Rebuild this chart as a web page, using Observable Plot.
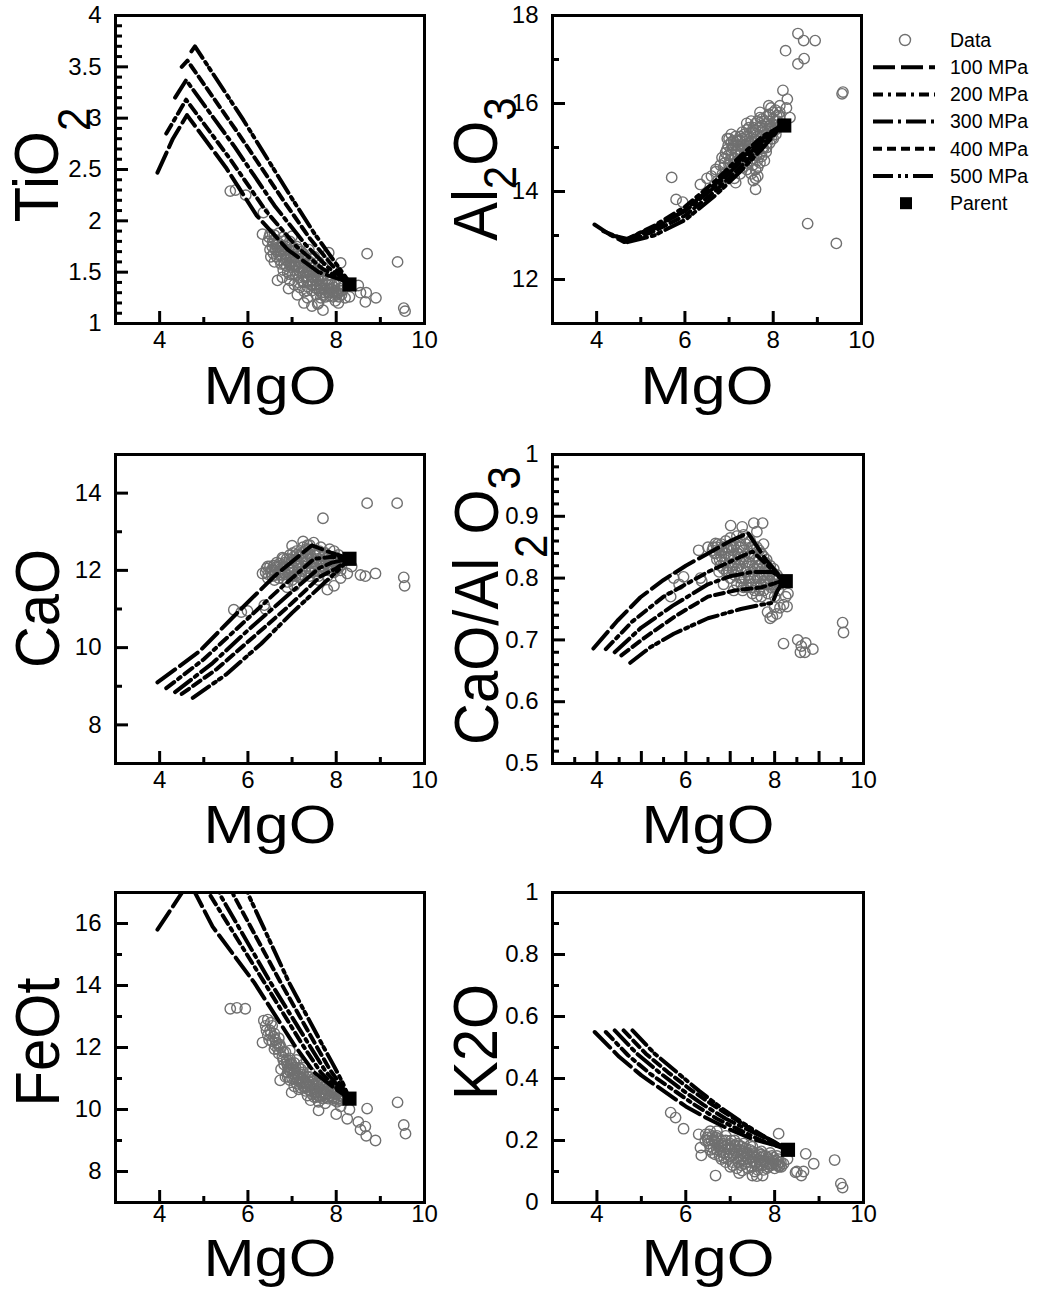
<!DOCTYPE html>
<html><head><meta charset="utf-8">
<script src="https://cdn.jsdelivr.net/npm/d3@7"></script>
<script src="https://cdn.jsdelivr.net/npm/@observablehq/plot@0.6"></script>
<style>
body{margin:0;background:#fff;}
#root{position:relative;width:1041px;height:1302px;background:#fff;overflow:hidden;}
</style></head><body><div id="root"></div>
<script>
// ---------------- DATA ----------------
const pressures = ["100 MPa", "200 MPa", "300 MPa", "400 MPa", "500 MPa"];
const legendLabels = ["Data", "100 MPa", "200 MPa", "300 MPa", "400 MPa", "500 MPa", "Parent"];
const mgoTicks = [4, 6, 8, 10];
const tio2Ticks = [1, 1.5, 2, 2.5, 3, 3.5, 4];
const al2o3Ticks = [12, 14, 16, 18];
const caoTicks = [8, 10, 12, 14];
const ratioTicks = [0.5, 0.6, 0.7, 0.8, 0.9, 1];
const feotTicks = [8, 10, 12, 14, 16];
const k2oTicks = [0, 0.2, 0.4, 0.6, 0.8, 1];

// samples: flat [MgO, value, MgO, value, ...]
const tio2Data = [5.6,2.29, 5.72,2.3, 5.95,2.25, 6.35,2.08, 6.33,1.87, 6.5,1.87, 6.6,1.86, 8.7,1.68, 9.39,1.6, 9.53,1.15, 9.56,1.12, 8.9,1.25, 8.66,1.21, 8.5,1.37, 8.68,1.3, 7.83,1.69, 8.1,1.59, 6.67,1.42, 6.92,1.34, 7.27,1.2, 7.45,1.17, 7.58,1.19, 7.7,1.13, 7.98,1.22, 8.05,1.2, 8.2,1.25, 8.3,1.26, 6.8,1.52, 7.6,1.2, 7.35,1.25, 8.55,1.3,
 6.45,1.8, 6.55,1.75, 6.6,1.82, 6.7,1.78, 6.75,1.7, 6.8,1.84, 6.85,1.75, 6.9,1.66, 6.95,1.8, 7.0,1.7, 7.0,1.6, 7.05,1.52, 7.1,1.75, 7.1,1.64, 7.15,1.55, 7.15,1.45, 7.2,1.7, 7.2,1.6, 7.25,1.5, 7.25,1.4, 7.3,1.65, 7.3,1.55, 7.35,1.46, 7.35,1.36, 7.4,1.6, 7.4,1.5, 7.45,1.42, 7.45,1.32, 7.5,1.55, 7.5,1.45, 7.55,1.38, 7.55,1.28, 7.6,1.5, 7.6,1.42, 7.65,1.34, 7.65,1.25, 7.7,1.46, 7.7,1.38, 7.75,1.3, 7.8,1.42, 7.8,1.34, 7.85,1.27, 7.9,1.38, 7.9,1.3, 7.95,1.35, 8.0,1.3, 8.05,1.38, 8.1,1.32, 6.65,1.65, 6.6,1.6, 6.75,1.58, 6.9,1.5, 6.95,1.42, 7.05,1.38, 6.85,1.62, 6.95,1.57, 7.08,1.47, 7.18,1.35, 7.28,1.31, 7.12,1.28, 6.78,1.45, 6.62,1.72, 6.52,1.65, 7.5,1.65, 7.6,1.6, 7.7,1.55, 7.38,1.72, 7.0,1.85, 6.7,1.88,
 6.5,1.72, 6.58,1.68, 6.68,1.74, 6.72,1.62, 6.82,1.68, 6.88,1.56, 6.98,1.64, 7.02,1.48, 7.08,1.58, 7.12,1.68, 7.18,1.5, 7.22,1.42, 7.28,1.58, 7.32,1.45, 7.38,1.52, 7.42,1.38, 7.48,1.5, 7.52,1.35, 7.58,1.45, 7.62,1.32, 7.68,1.42, 7.72,1.28, 7.78,1.38, 7.82,1.3, 7.88,1.34, 7.92,1.26, 7.98,1.32, 8.02,1.28, 8.08,1.34, 8.12,1.28, 7.35,1.62, 7.45,1.58, 7.55,1.5, 7.25,1.68, 7.15,1.72, 6.92,1.72, 6.78,1.8, 6.58,1.78, 7.0,1.55, 6.82,1.58,
 6.48,1.84, 6.56,1.8, 6.64,1.77, 6.66,1.7, 6.74,1.66, 6.76,1.76, 6.84,1.72, 6.86,1.64, 6.94,1.68, 6.96,1.6, 7.04,1.64, 7.06,1.56, 7.14,1.6, 7.16,1.52, 7.24,1.55, 7.26,1.46, 7.34,1.5, 7.36,1.42, 7.44,1.46, 7.46,1.38, 7.54,1.42, 7.56,1.34, 7.64,1.38, 7.66,1.3, 7.74,1.34, 7.76,1.26, 7.84,1.34, 7.86,1.3, 7.94,1.3, 7.96,1.38, 8.04,1.3, 8.06,1.26, 8.14,1.32, 8.16,1.36, 7.04,1.74, 7.24,1.64, 7.44,1.54, 7.64,1.46, 7.84,1.4, 6.94,1.48, 7.14,1.4, 7.34,1.32];
const al2o3Data = [8.56,17.59, 8.69,17.43, 8.95,17.43, 8.28,17.2, 8.56,16.9, 8.7,17.02, 9.56,16.22, 9.58,16.26, 8.78,13.27, 9.43,12.82, 5.7,14.32, 5.8,13.82, 5.95,13.76, 6.35,14.16, 6.84,14.77, 6.96,15.2, 7.05,15.12, 7.19,15.15, 7.6,14.05, 7.6,14.3, 8.22,16.3, 8.32,16.1, 8.3,15.9, 7.9,15.95, 7.7,15.68, 8.38,15.68, 7.4,15.55, 6.5,14.3, 6.7,14.45,
 6.6,14.35, 6.7,14.5, 6.8,14.6, 6.85,14.4, 6.9,14.75, 6.95,14.95, 7.0,14.6, 7.0,15.2, 7.05,14.85, 7.1,15.05, 7.1,14.45, 7.15,15.25, 7.2,14.7, 7.2,14.95, 7.25,15.15, 7.3,14.55, 7.3,15.35, 7.35,14.85, 7.35,15.05, 7.4,15.25, 7.4,14.65, 7.45,15.45, 7.45,14.95, 7.5,15.15, 7.5,14.4, 7.55,15.35, 7.55,14.75, 7.6,15.55, 7.6,15.0, 7.65,15.25, 7.65,14.55, 7.7,15.45, 7.7,14.85, 7.75,15.65, 7.75,15.1, 7.8,15.35, 7.8,14.7, 7.85,15.55, 7.85,15.0, 7.9,15.75, 7.9,15.25, 7.95,15.45, 8.0,15.65, 8.0,15.2, 8.05,15.85, 8.05,15.4, 8.1,15.6, 8.15,15.8, 7.6,14.5, 7.55,14.25, 7.05,15.3, 6.75,14.25, 6.95,14.3, 7.25,14.4, 7.15,14.2, 7.65,14.35, 7.95,15.9, 7.7,15.8, 7.5,15.6,
 6.88,14.55, 6.92,14.88, 6.98,15.05, 7.02,14.72, 7.08,14.98, 7.12,14.62, 7.18,15.15, 7.22,14.82, 7.28,15.02, 7.32,14.68, 7.38,15.18, 7.42,14.88, 7.48,15.32, 7.52,14.98, 7.58,15.18, 7.62,14.82, 7.68,15.08, 7.72,15.35, 7.78,14.98, 7.82,15.2, 7.88,15.42, 7.92,15.1, 7.98,15.35, 8.02,15.52, 8.08,15.72, 8.12,15.45, 8.15,15.95, 7.35,15.3, 7.25,15.25, 7.45,15.1, 7.55,15.45, 7.65,15.6, 7.85,15.7, 7.75,15.5, 7.12,14.3, 7.4,14.5, 7.7,14.65,
 6.9,14.65, 6.98,14.82, 7.04,14.95, 7.06,14.55, 7.14,14.75, 7.16,14.9, 7.24,14.6, 7.26,14.85, 7.34,14.95, 7.36,14.75, 7.44,15.05, 7.46,14.8, 7.54,15.1, 7.56,14.9, 7.64,15.15, 7.66,14.95, 7.74,15.25, 7.76,15.0, 7.84,15.3, 7.86,15.1, 7.94,15.5, 7.96,15.2, 8.04,15.6, 8.06,15.3, 8.14,15.7, 8.16,15.5, 7.74,14.8, 7.84,14.9, 7.64,14.7, 7.54,14.6, 7.2,15.05, 7.3,15.2, 7.4,15.4, 7.6,15.4, 7.8,15.6, 7.9,15.6, 8.0,15.8, 7.1,15.15];
const caoData = [8.7,13.74, 9.38,13.74, 7.7,13.35, 9.53,11.82, 9.55,11.6, 8.89,11.92, 8.55,11.88, 8.66,11.85, 8.25,11.92, 7.95,11.6, 8.1,11.8, 5.68,10.98, 5.85,10.92, 5.99,10.95, 6.37,11.1, 6.4,11.0, 6.33,11.92, 6.45,12.1, 6.6,12.12, 6.78,12.33, 7.0,12.64, 7.25,12.75, 7.49,12.72, 6.89,11.56, 8.35,12.1, 7.8,11.5,
 6.4,11.95, 6.5,12.1, 6.55,11.85, 6.6,12.0, 6.65,12.2, 6.7,11.8, 6.75,12.05, 6.8,12.3, 6.85,11.9, 6.9,12.15, 6.95,12.4, 7.0,11.75, 7.0,12.0, 7.05,12.25, 7.1,12.5, 7.15,11.85, 7.15,12.1, 7.2,12.35, 7.25,12.6, 7.3,11.95, 7.3,12.2, 7.35,12.45, 7.4,12.65, 7.45,12.05, 7.45,12.3, 7.5,12.5, 7.55,11.9, 7.55,12.15, 7.6,12.4, 7.65,12.6, 7.7,12.0, 7.7,12.25, 7.75,12.45, 7.8,11.85, 7.85,12.1, 7.9,12.35, 7.95,11.95, 8.0,12.2, 8.05,12.4, 8.1,12.0, 6.9,11.7, 7.6,11.75, 7.2,11.8, 6.6,11.75, 8.15,12.25, 7.85,12.55, 7.95,12.5, 6.45,11.8, 7.05,11.6,
 6.42,12.05, 6.52,11.95, 6.58,12.12, 6.68,11.95, 6.72,12.18, 6.78,11.88, 6.82,12.1, 6.88,12.3, 6.92,11.95, 6.98,12.2, 7.02,12.45, 7.08,11.85, 7.12,12.15, 7.18,12.4, 7.22,11.98, 7.28,12.3, 7.32,12.55, 7.38,12.05, 7.42,12.38, 7.48,12.18, 7.52,11.98, 7.58,12.3, 7.62,12.5, 7.68,12.12, 7.72,12.38, 7.78,12.2, 7.82,12.0, 7.88,12.25, 7.92,12.1, 7.98,12.35, 8.02,12.05, 8.08,12.2, 7.35,12.65, 7.1,12.3, 6.95,12.05, 6.75,11.95, 7.65,12.0,
 6.46,11.9, 6.54,12.02, 6.62,11.88, 6.64,12.08, 6.72,11.9, 6.74,12.12, 6.82,11.95, 6.84,12.2, 6.92,12.05, 6.94,12.28, 7.02,12.1, 7.04,12.35, 7.12,11.95, 7.14,12.2, 7.22,12.05, 7.24,12.45, 7.32,12.1, 7.34,12.35, 7.42,11.95, 7.44,12.2, 7.52,12.05, 7.54,12.4, 7.62,12.2, 7.64,11.95, 7.72,12.1, 7.74,12.3, 7.82,12.15, 7.84,12.35, 7.92,12.0, 7.94,12.2, 8.02,12.3, 8.04,12.1, 8.12,12.15, 7.0,11.85, 7.2,11.9, 7.4,11.85, 7.6,11.85, 6.8,11.78, 7.1,12.4, 7.3,12.5];
const ratioData = [7.01,0.885, 7.27,0.883, 7.53,0.889, 7.73,0.889, 7.6,0.875, 6.29,0.845, 6.5,0.85, 6.67,0.856, 5.73,0.8, 5.85,0.79, 5.95,0.802, 5.66,0.77, 6.33,0.8, 6.36,0.795, 6.85,0.79, 7.08,0.78, 7.84,0.745, 7.95,0.738, 8.05,0.742, 8.12,0.752, 8.2,0.757, 8.28,0.754, 7.9,0.735, 8.0,0.753, 8.3,0.775, 8.2,0.694, 8.52,0.7, 8.6,0.69, 8.58,0.68, 8.68,0.68, 8.86,0.685, 8.7,0.695, 9.53,0.728, 9.55,0.712, 8.25,0.77,
 6.6,0.845, 6.7,0.85, 6.7,0.83, 6.8,0.855, 6.8,0.835, 6.85,0.815, 6.9,0.86, 6.9,0.84, 6.95,0.82, 7.0,0.8, 7.0,0.865, 7.05,0.845, 7.1,0.825, 7.1,0.805, 7.15,0.868, 7.2,0.85, 7.2,0.83, 7.25,0.81, 7.25,0.79, 7.3,0.87, 7.3,0.845, 7.35,0.825, 7.4,0.805, 7.4,0.785, 7.45,0.86, 7.5,0.84, 7.5,0.82, 7.55,0.8, 7.55,0.78, 7.6,0.85, 7.65,0.83, 7.65,0.81, 7.7,0.79, 7.75,0.835, 7.8,0.815, 7.8,0.795, 7.85,0.775, 7.9,0.82, 7.95,0.8, 8.0,0.785, 8.05,0.805, 8.1,0.79, 7.6,0.77, 7.15,0.79, 6.95,0.85, 7.45,0.8, 7.75,0.855, 8.0,0.77, 6.75,0.81,
 6.65,0.84, 6.75,0.845, 6.78,0.82, 6.85,0.85, 6.88,0.83, 6.92,0.81, 6.98,0.835, 7.02,0.85, 7.05,0.815, 7.08,0.835, 7.12,0.855, 7.15,0.815, 7.18,0.84, 7.22,0.86, 7.22,0.8, 7.28,0.83, 7.32,0.8, 7.35,0.855, 7.38,0.815, 7.42,0.835, 7.42,0.795, 7.48,0.85, 7.52,0.81, 7.55,0.835, 7.58,0.79, 7.62,0.82, 7.65,0.845, 7.68,0.8, 7.72,0.825, 7.75,0.78, 7.78,0.805, 7.82,0.83, 7.85,0.79, 7.88,0.805, 7.92,0.785, 7.98,0.815, 8.02,0.795, 8.08,0.78, 7.3,0.785, 7.5,0.775, 7.7,0.77,
 6.62,0.85, 6.68,0.84, 6.72,0.855, 6.76,0.83, 6.82,0.845, 6.86,0.825, 6.92,0.85, 6.96,0.81, 7.02,0.835, 7.04,0.82, 7.08,0.85, 7.12,0.81, 7.16,0.84, 7.2,0.82, 7.24,0.85, 7.26,0.8, 7.32,0.835, 7.36,0.81, 7.38,0.865, 7.44,0.825, 7.46,0.79, 7.52,0.85, 7.54,0.815, 7.58,0.83, 7.62,0.8, 7.66,0.82, 7.7,0.84, 7.72,0.805, 7.76,0.79, 7.8,0.825, 7.84,0.8, 7.88,0.815, 7.9,0.795, 7.94,0.81, 7.98,0.79, 8.04,0.79, 8.1,0.8, 7.28,0.78, 7.48,0.785, 7.66,0.78];
const feotData = [5.6,13.25, 5.75,13.28, 5.94,13.25, 6.36,12.87, 6.45,12.9, 6.33,12.16, 8.7,10.03, 9.39,10.23, 9.53,9.5, 9.57,9.22, 8.89,9.0, 8.5,9.6, 8.55,9.35, 8.66,9.45, 8.68,9.15, 8.25,9.7, 7.6,9.97, 6.73,10.94, 6.99,10.55, 8.1,10.1, 7.42,10.3, 8.0,9.85, 8.3,10.0,
 6.4,12.7, 6.45,12.4, 6.5,12.55, 6.55,12.2, 6.6,12.45, 6.6,11.95, 6.65,12.15, 6.7,11.8, 6.75,12.0, 6.8,11.6, 6.85,11.85, 6.9,11.4, 6.9,11.2, 6.95,11.65, 7.0,11.0, 7.0,11.3, 7.05,11.5, 7.1,11.15, 7.1,10.85, 7.15,11.35, 7.2,11.0, 7.2,10.7, 7.25,11.2, 7.3,10.85, 7.3,10.6, 7.35,11.05, 7.4,10.75, 7.45,10.5, 7.45,10.95, 7.5,10.65, 7.55,10.85, 7.6,10.45, 7.6,10.7, 7.65,10.55, 7.7,10.8, 7.75,10.4, 7.8,10.6, 7.85,10.45, 7.9,10.7, 7.95,10.3, 8.0,10.5, 8.05,10.35, 8.1,10.6, 8.15,10.4, 6.95,11.9, 7.1,11.6, 7.25,11.45, 6.85,11.05, 7.05,10.75, 7.4,11.2, 7.55,10.4, 7.75,10.2, 6.75,11.3, 6.7,12.3, 6.55,12.7,
 6.42,12.55, 6.48,12.25, 6.52,12.8, 6.58,12.35, 6.62,12.05, 6.68,11.95, 6.72,12.1, 6.78,11.7, 6.82,11.45, 6.88,11.6, 6.92,11.3, 6.98,11.5, 7.02,11.15, 7.08,11.35, 7.12,11.0, 7.18,11.2, 7.22,10.85, 7.28,11.05, 7.32,10.75, 7.38,10.9, 7.42,10.6, 7.48,10.8, 7.52,10.5, 7.58,10.6, 7.62,10.85, 7.68,10.45, 7.72,10.65, 7.78,10.5, 7.82,10.35, 7.88,10.55, 7.92,10.4, 7.98,10.6, 8.02,10.25, 8.08,10.45, 8.12,10.3, 6.95,10.95, 7.15,10.65, 7.35,10.45, 7.6,10.25, 7.25,11.35, 7.5,11.0, 7.7,10.95, 7.85,10.75,
 6.88,11.5, 6.94,11.25, 6.96,11.45, 7.04,11.05, 7.06,11.25, 7.14,11.1, 7.16,10.9, 7.24,11.0, 7.26,10.75, 7.34,10.85, 7.36,10.65, 7.44,10.7, 7.46,10.9, 7.54,10.55, 7.56,10.75, 7.64,10.4, 7.66,10.65, 7.74,10.55, 7.76,10.75, 7.84,10.4, 7.86,10.6, 7.94,10.5, 7.96,10.35, 8.04,10.55, 8.06,10.3, 8.14,10.5, 7.0,11.45, 7.2,11.3, 7.4,11.05, 7.6,10.95, 7.8,10.8, 7.1,10.95, 7.3,10.7, 7.5,10.4, 7.7,10.35, 6.8,11.85, 6.62,12.25, 6.52,12.45, 6.7,12.05, 6.9,11.05];
const k2oData = [5.66,0.29, 5.77,0.274, 5.95,0.238, 6.29,0.22, 6.33,0.177, 6.35,0.152, 6.67,0.087, 8.09,0.222, 8.7,0.157, 9.35,0.137, 8.88,0.125, 8.47,0.097, 8.6,0.087, 8.65,0.1, 9.49,0.061, 9.53,0.048, 7.27,0.103, 7.5,0.087, 7.73,0.087, 7.9,0.12, 8.1,0.115, 8.29,0.14, 8.2,0.125, 8.5,0.1,
 6.45,0.22, 6.5,0.2, 6.55,0.18, 6.6,0.215, 6.65,0.195, 6.7,0.17, 6.75,0.205, 6.8,0.185, 6.85,0.16, 6.9,0.2, 6.95,0.175, 7.0,0.15, 7.0,0.19, 7.05,0.13, 7.1,0.17, 7.15,0.145, 7.2,0.185, 7.25,0.12, 7.25,0.16, 7.3,0.14, 7.35,0.175, 7.4,0.11, 7.4,0.155, 7.45,0.13, 7.5,0.165, 7.55,0.1, 7.55,0.145, 7.6,0.12, 7.65,0.16, 7.7,0.135, 7.75,0.105, 7.8,0.15, 7.85,0.125, 7.9,0.16, 7.95,0.135, 8.0,0.11, 8.05,0.15, 8.1,0.13, 8.15,0.115, 6.6,0.16, 6.8,0.14, 7.0,0.115, 7.2,0.095, 7.6,0.085, 7.3,0.19, 6.7,0.23, 6.55,0.23,
 6.48,0.21, 6.52,0.19, 6.58,0.2, 6.62,0.175, 6.68,0.21, 6.72,0.19, 6.78,0.165, 6.82,0.2, 6.88,0.18, 6.92,0.155, 6.98,0.17, 7.02,0.2, 7.08,0.155, 7.12,0.18, 7.18,0.13, 7.22,0.17, 7.28,0.15, 7.32,0.125, 7.38,0.16, 7.42,0.14, 7.48,0.115, 7.52,0.15, 7.58,0.13, 7.62,0.105, 7.68,0.145, 7.72,0.12, 7.78,0.135, 7.82,0.11, 7.88,0.14, 7.92,0.12, 7.98,0.145, 8.02,0.125, 8.08,0.14, 8.12,0.12, 7.1,0.2, 7.45,0.185, 7.7,0.165, 6.9,0.13, 7.15,0.11,
 6.44,0.2, 6.52,0.22, 6.56,0.17, 6.64,0.2, 6.66,0.155, 6.74,0.18, 6.76,0.15, 6.84,0.19, 6.86,0.145, 6.94,0.185, 6.96,0.14, 7.04,0.175, 7.06,0.12, 7.14,0.165, 7.16,0.19, 7.24,0.14, 7.26,0.18, 7.34,0.15, 7.36,0.13, 7.44,0.17, 7.46,0.145, 7.54,0.16, 7.56,0.125, 7.64,0.14, 7.66,0.12, 7.74,0.15, 7.76,0.13, 7.84,0.145, 7.86,0.115, 7.94,0.15, 7.96,0.125, 8.04,0.135, 8.06,0.12, 8.14,0.13, 6.7,0.215, 6.9,0.215, 7.1,0.185, 7.3,0.165, 7.5,0.18, 7.7,0.155];

// model curves (one per pressure, in the order of `pressures`), flat [MgO, value, ...]
const tio2Model = [
 [3.95,2.47, 4.3,2.8, 4.62,3.03, 5.5,2.52, 6.2,2.05, 6.9,1.72, 7.6,1.5, 8.3,1.4],
 [4.15,2.85, 4.6,3.18, 5.6,2.6, 6.4,2.1, 7.1,1.75, 7.7,1.53, 8.3,1.4],
 [4.35,3.2, 4.6,3.37, 5.7,2.72, 6.6,2.15, 7.3,1.77, 7.8,1.55, 8.3,1.4],
 [4.5,3.5, 4.63,3.56, 5.8,2.84, 6.8,2.2, 7.4,1.83, 7.9,1.57, 8.3,1.4],
 [4.72,3.65, 4.8,3.7, 5.9,2.98, 6.95,2.25, 7.5,1.88, 8.0,1.58, 8.3,1.4]];
const al2o3Model = [
 [3.95,13.25, 4.3,13.02, 4.63,12.85, 5.3,13.15, 6.0,13.58, 6.7,14.18, 7.25,14.72, 7.75,15.2, 8.2,15.5],
 [4.15,13.1, 4.65,12.9, 5.3,13.22, 6.0,13.65, 6.7,14.25, 7.25,14.8, 7.75,15.25, 8.2,15.5],
 [4.35,13.0, 4.7,12.92, 5.3,13.2, 6.0,13.55, 6.7,14.12, 7.25,14.66, 7.75,15.14, 8.2,15.5],
 [4.5,12.95, 4.75,12.88, 5.3,13.1, 6.0,13.45, 6.7,14.02, 7.25,14.55, 7.75,15.05, 8.2,15.5],
 [4.7,12.85, 5.3,13.0, 6.0,13.35, 6.7,13.92, 7.25,14.45, 7.75,14.97, 8.2,15.5]];
const caoModel = [
 [3.95,9.1, 4.9,9.9, 5.8,10.95, 6.6,11.85, 7.45,12.65, 7.9,12.45, 8.3,12.3],
 [4.15,8.95, 5.0,9.7, 5.9,10.65, 6.7,11.5, 7.5,12.3, 7.9,12.35, 8.3,12.3],
 [4.35,8.85, 5.2,9.6, 6.0,10.45, 6.8,11.25, 7.6,12.05, 7.9,12.2, 8.3,12.3],
 [4.5,8.8, 5.3,9.45, 6.1,10.25, 6.9,11.05, 7.65,11.85, 8.0,12.05, 8.3,12.3],
 [4.75,8.7, 5.5,9.3, 6.3,10.1, 7.0,10.9, 7.75,11.7, 8.0,11.95, 8.3,12.3]];
const ratioModel = [
 [3.92,0.686, 4.46,0.731, 4.98,0.769, 5.5,0.797, 6.0,0.82, 6.5,0.84, 7.0,0.86, 7.4,0.873, 7.8,0.83, 8.2,0.796],
 [4.2,0.685, 4.8,0.73, 5.5,0.77, 6.5,0.81, 7.1,0.83, 7.5,0.843, 7.85,0.82, 8.2,0.796],
 [4.4,0.68, 5.0,0.72, 5.7,0.755, 6.5,0.79, 7.0,0.803, 7.5,0.81, 7.95,0.81, 8.2,0.796],
 [4.55,0.675, 5.1,0.705, 5.8,0.74, 6.5,0.77, 7.1,0.78, 7.7,0.785, 8.2,0.796],
 [4.75,0.663, 5.2,0.688, 5.73,0.71, 6.5,0.735, 7.24,0.75, 7.7,0.757, 7.95,0.76, 8.05,0.778, 8.2,0.796]];
const feotModel = [
 [3.95,15.8, 4.3,16.55, 4.6,17.2, 4.8,17.0, 5.2,15.9, 6.14,14.1, 7.04,12.1, 7.5,11.2, 7.95,10.7, 8.3,10.35],
 [5.0,17.6, 5.15,16.9, 6.37,14.1, 7.23,12.1, 7.65,11.2, 8.0,10.7, 8.3,10.35],
 [5.2,17.6, 5.38,16.9, 6.51,14.1, 7.38,12.1, 7.75,11.25, 8.05,10.75, 8.3,10.35],
 [5.5,17.6, 5.68,16.9, 6.74,14.1, 7.53,12.1, 7.85,11.3, 8.1,10.8, 8.3,10.35],
 [5.85,17.6, 6.02,16.9, 6.93,14.1, 7.68,12.1, 7.95,11.4, 8.15,10.85, 8.3,10.35]];
const k2oModel = [
 [3.95,0.55, 4.5,0.47, 5.0,0.41, 5.5,0.36, 6.0,0.31, 6.5,0.27, 7.0,0.235, 7.5,0.205, 8.0,0.185, 8.3,0.17],
 [4.2,0.55, 4.7,0.475, 5.2,0.415, 5.7,0.365, 6.2,0.315, 6.7,0.27, 7.2,0.235, 7.7,0.2, 8.3,0.17],
 [4.4,0.555, 4.9,0.48, 5.4,0.42, 5.9,0.365, 6.4,0.315, 6.9,0.27, 7.4,0.235, 7.9,0.2, 8.3,0.17],
 [4.6,0.555, 5.1,0.48, 5.6,0.42, 6.1,0.365, 6.6,0.315, 7.1,0.27, 7.6,0.225, 8.0,0.195, 8.3,0.17],
 [4.8,0.555, 5.3,0.48, 5.8,0.42, 6.3,0.36, 6.8,0.305, 7.3,0.255, 7.8,0.21, 8.3,0.17]];

// parent composition [MgO, value]
const tio2Parent = [8.3, 1.38];
const al2o3Parent = [8.25, 15.5];
const caoParent = [8.3, 12.3];
const ratioParent = [8.25, 0.795];
const feotParent = [8.3, 10.35];
const k2oParent = [8.3, 0.17];

// ---------------- DRAWING ----------------
const FONT = '"Liberation Sans", Arial, Helvetica, sans-serif';
const DASH = ["22,6", "10,5,3,5", "20,5,3,5", "9,5", "20,5,3,4,3,5"];
const pairs = a => d3.range(0, a.length, 2).map(i => ({x: a[i], y: a[i + 1]}));
const minorOf = (lo, hi, step, major) => d3.range(Math.round((hi - lo) / step) + 1)
  .map(i => +(lo + i * step).toFixed(4)).filter(v => !major.some(m => Math.abs(m - v) < 1e-6));
const fmt = d => String(d);

const panels = [
  {left: 0, top: 0, ml: 115, mr: 16, mt: 15, mb: 107, y: [1, 4], ticks: tio2Ticks, minor: minorOf(1, 4, 0.1, tio2Ticks),
   label: [["TiO", 0], ["2", 30]], labelX: 58, cyShift: -4, titleDy: 80, titleSize: 53, xPad: 7, data: tio2Data, model: tio2Model, parent: tio2Parent, xMinor: [5, 7, 9], xLong: [4, 6, 8]},
  {left: 440, top: 0, ml: 112, mr: 19, mt: 15, mb: 107, y: [11, 18], ticks: al2o3Ticks, minor: [13, 15, 17],
   label: [["Al", 0], ["2", 18], ["O", 0], ["3", 18]], labelX: 57, cyShift: 0, titleDy: 80, titleSize: 53, xPad: 7, data: al2o3Data, model: al2o3Model, parent: al2o3Parent, xMinor: [5, 7, 9], xLong: [4, 6, 8]},
  {left: 0, top: 440, ml: 115, mr: 16, mt: 14, mb: 107, y: [7, 15], ticks: caoTicks, minor: [9, 11, 13],
   label: [["CaO", 0]], labelX: 59, cyShift: 0, titleDy: 79, titleSize: 53, xPad: 7, data: caoData, model: caoModel, parent: caoParent, xMinor: [5, 7, 9], xLong: [4, 6, 8]},
  {left: 440, top: 440, ml: 112, mr: 17, mt: 14, mb: 107, y: [0.5, 1], ticks: ratioTicks, minor: minorOf(0.5, 1, 0.02, ratioTicks),
   label: [["CaO/Al", 0], ["2", 45], ["O", 0], ["3", 20]], labelX: 58, cyShift: -3, titleDy: 79, titleSize: 53, xPad: 7, data: ratioData, model: ratioModel, parent: ratioParent,
   xMinor: [3.5, 4.5, 5.5, 6.5, 7.5, 8.5, 9.5], xLong: [4, 5, 6, 7, 8, 9]},
  {left: 0, top: 870, ml: 115, mr: 16, mt: 22, mb: 98, y: [7, 17], ticks: feotTicks, minor: [9, 11, 13, 15],
   label: [["FeOt", 0]], labelX: 59, cyShift: -5, titleDy: 73, titleSize: 51, xPad: 2, data: feotData, model: feotModel, parent: feotParent, xMinor: [5, 7, 9], xLong: [4, 6, 8]},
  {left: 440, top: 870, ml: 112, mr: 17, mt: 22, mb: 98, y: [0, 1], ticks: k2oTicks, minor: minorOf(0, 1, 0.1, k2oTicks),
   label: [["K2O", 0]], labelX: 57, cyShift: -5, titleDy: 73, titleSize: 51, xPad: 2, data: k2oData, model: k2oModel, parent: k2oParent, xMinor: [5, 7, 9], xLong: [4, 6, 8]}
];

const root = document.getElementById("root");
const W = 440, H = 430;

for (const p of panels) {
  const svg = Plot.plot({
    width: W, height: H,
    marginLeft: p.ml, marginRight: p.mr, marginTop: p.mt, marginBottom: p.mb,
    style: {fontFamily: FONT, color: "black", background: "white", overflow: "visible"},
    x: {domain: [3, 10], label: null},
    y: {domain: p.y, label: null},
    marks: [
      Plot.dot(pairs(p.data), {x: "x", y: "y", r: 5.2, stroke: "#707070", strokeWidth: 1.4, fill: "none"}),
      ...p.model.map((m, k) => Plot.line(pairs(m), {x: "x", y: "y", stroke: "black", strokeWidth: 4,
        strokeDasharray: DASH[k], clip: true, title: () => pressures[k]})),
      Plot.dot([p.parent], {x: d => d[0], y: d => d[1], symbol: "square", fill: "black", r: 8}),
      Plot.frame({stroke: "black", strokeWidth: 3}),
      Plot.axisY({ticks: p.minor, tickSize: -7, tickFormat: () => "", strokeWidth: 3, label: null}),
      Plot.axisY({ticks: p.ticks, tickSize: -13, tickPadding: 27, tickFormat: fmt, fontSize: 24, strokeWidth: 3, label: null}),
      Plot.axisX({ticks: p.xMinor, tickSize: -6, tickFormat: () => "", strokeWidth: 3, label: null}),
      Plot.axisX({ticks: p.xLong, tickSize: -12, tickFormat: () => "", strokeWidth: 3, label: null}),
      Plot.axisX({ticks: mgoTicks, tickSize: 0, tickPadding: p.xPad, tickFormat: fmt, fontSize: 24, label: null}),
      Plot.text(["MgO"], {frameAnchor: "bottom", lineAnchor: "bottom", dy: p.titleDy, fontSize: p.titleSize, fill: "black"})
    ]
  });
  svg.style.position = "absolute";
  svg.style.left = p.left + "px";
  svg.style.top = p.top + "px";
  // widen the big x title to match the reference's proportions
  d3.select(svg).selectAll("text").filter(function() { return this.textContent === "MgO"; })
    .attr("textLength", 133).attr("lengthAdjust", "spacingAndGlyphs");
  // rotated y-axis title with subscripts
  const cy = p.mt + (H - p.mt - p.mb) / 2 + p.cyShift;
  const t = d3.select(svg).append("text")
    .attr("transform", `translate(${p.labelX},${cy}) scale(1.08,1) rotate(-90)`)
    .attr("text-anchor", "middle").attr("font-family", FONT).attr("fill", "black");
  let cur = 0;
  for (const [s, shift] of p.label) {
    t.append("tspan").text(s).attr("font-size", shift ? 42 : 58).attr("dy", shift - cur);
    cur = shift;
  }
  root.appendChild(svg);
}

// legend
const leg = d3.select(root).append("svg").attr("width", 181).attr("height", 210)
  .style("position", "absolute").style("left", "860px").style("top", "20px")
  .attr("font-family", FONT);
legendLabels.forEach((lab, i) => {
  const y = 20 + i * 27.2;
  const g = leg.append("g");
  if (i === 0) g.append("circle").attr("cx", 45).attr("cy", y).attr("r", 5.5).attr("fill", "none").attr("stroke", "#707070").attr("stroke-width", 1.4);
  else if (i === legendLabels.length - 1) g.append("rect").attr("x", 40).attr("y", y - 6).attr("width", 12).attr("height", 12).attr("fill", "black");
  else g.append("line").attr("x1", 13).attr("x2", 75).attr("y1", y).attr("y2", y).attr("stroke", "black").attr("stroke-width", 4).attr("stroke-dasharray", DASH[i - 1]);
  g.append("text").attr("x", 90).attr("y", y).attr("dy", "0.35em").attr("font-size", 19.5).attr("fill", "black").text(lab);
});
</script></body></html>
